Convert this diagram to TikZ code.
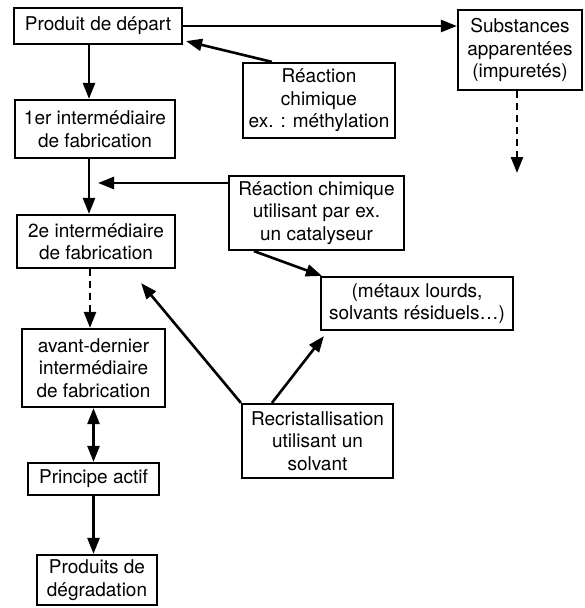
\documentclass[tikz,border=0pt]{standalone}
\usepackage{fontspec}
\setmainfont{TeX Gyre Heros}
\usetikzlibrary{arrows.meta}
\tikzset{
  box/.style={draw, line width=2.2pt, align=center, inner sep=2pt, font=\fontsize{19}{22.5}\selectfont},
  pfeil/.style={line width=2.6pt, ->},
  strich/.style={dash pattern=on 7pt off 5pt},
}
\begin{document}
\begin{tikzpicture}[x=1pt, y=-1pt, >={Triangle[length=16pt,width=12pt]}]
	\useasboundingbox (0,0) rectangle (584,608);
	% 画方框
	\node[box, minimum width=168pt, minimum height=36pt] (depart) at (98,26) {Produit de départ};
	\node[box, minimum width=124pt, minimum height=80pt] (sub) at (520,50) {Substances\\apparentées\\(impuretés)};
	\node[box, minimum width=152pt, minimum height=75pt] (methyl) at (319,100.5) {Réaction\\chimique\\ex. : méthylation};
	\node[box, minimum width=160pt, minimum height=58pt] (inter1) at (95,129) {1er intermédiaire\\de fabrication};
	\node[box, minimum width=175pt, minimum height=74pt] (catal) at (316.5,213) {Réaction chimique\\utilisant par ex.\\un catalyseur};
	\node[box, minimum width=158pt, minimum height=53pt] (inter2) at (96,241.5) {2e intermédiaire\\de fabrication};
	\node[box, minimum width=192pt, minimum height=53pt] (metaux) at (417,303.5) {(métaux lourds,\\solvants résiduels\dots)};
	\node[box, minimum width=143pt, minimum height=78pt] (avant) at (93.5,368) {avant-dernier\\intermédiaire\\de fabrication};
	\node[box, minimum width=151pt, minimum height=74pt] (recrist) at (317.5,441) {Recristallisation\\utilisant un\\solvant};
	\node[box, minimum width=131pt, minimum height=32pt] (principe) at (93.5,479) {Principe actif};
	\node[box, minimum width=120pt, minimum height=50pt] (produits) at (97,580) {Produits de\\dégradation};
	\coordinate (zu) at (98,183);
	\coordinate (senke) at (517,173);
	% 画箭头
	\draw[pfeil] (depart.east) -- (depart.east -| sub.west);
	\draw[pfeil] ([xshift=30pt]methyl.north west) -- ([xshift=3pt,yshift=4pt]depart.south east);
	\draw[pfeil, strich] ([xshift=-3pt]sub.south) -- (senke);
	\draw[pfeil] ([xshift=-9pt]depart.south) -- ([xshift=-9pt]depart.south |- inter1.north);
	\draw[pfeil] ([xshift=-6pt]inter1.south) -- ([xshift=-6pt]inter1.south |- inter2.north);
	\draw[pfeil] (catal.west |- zu) -- (zu);
	\draw[pfeil] ([xshift=26pt]catal.south west) -- ([xshift=2pt]metaux.north west);
	\draw[pfeil, strich] ([xshift=-6pt]inter2.south) -- ([xshift=-6pt]inter2.south |- avant.north);
	\draw[pfeil] (recrist.north west) -- ([xshift=-35pt,yshift=-14pt]inter2.south east);
	\draw[pfeil] ([xshift=31pt]recrist.north west) -- ([xshift=4pt,yshift=-5pt]metaux.south west);
	\draw[pfeil, <->] (avant.south) -- (principe.north);
	\draw[pfeil] (principe.south) -- (principe.south |- produits.north);
\end{tikzpicture}
\end{document}
